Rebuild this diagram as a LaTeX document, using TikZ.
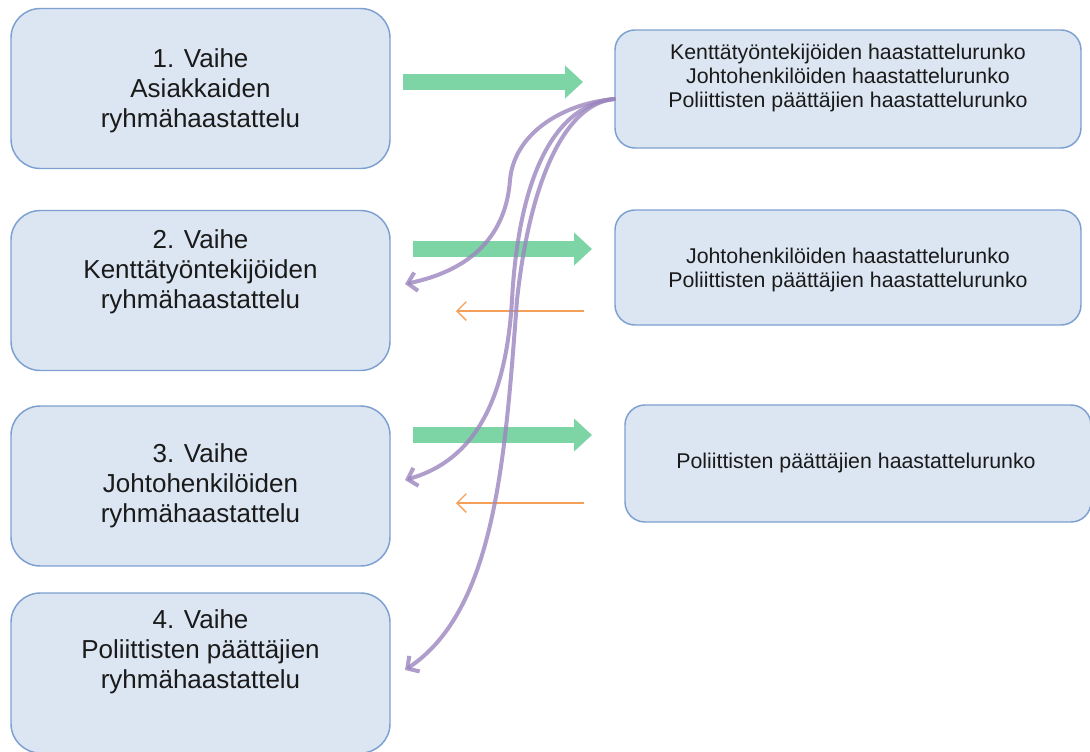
\documentclass[tikz,border=0pt]{standalone}
\usepackage{fontspec}
\setmainfont{Liberation Sans}
\usetikzlibrary{arrows.meta}
\definecolor{boxfill}{HTML}{DCE6F2}
\definecolor{boxline}{HTML}{7EA0D0}
\definecolor{garrowc}{HTML}{7DD4A5}
\definecolor{oarrowc}{HTML}{F5A05A}
\definecolor{parrowc}{HTML}{9B86BE}
\definecolor{txt}{HTML}{1A1A1A}
\tikzset{
  lbox/.style={draw=boxline, line width=1.1pt, fill=boxfill, rounded corners=22pt,
    minimum width=284.25pt, minimum height=120pt, inner sep=0pt},
  rbox/.style={draw=boxline, line width=1.1pt, fill=boxfill, rounded corners=15pt,
    minimum width=349.5pt, inner sep=0pt},
  ltext/.style={text=txt, align=center, font=\fontsize{19.5}{22.5}\selectfont, inner sep=0pt},
  rtext/.style={text=txt, align=center, font=\fontsize{16}{17.8}\selectfont, inner sep=0pt},
  garrow/.style={draw=garrowc, line width=12pt, -{Triangle[length=13.5pt,width=24pt]}},
  oarrow/.style={draw=oarrowc, line width=0.95pt, -{Straight Barb[length=7pt,width=14pt]}},
  parrow/.style={draw=parrowc, line width=3pt, opacity=0.8, line cap=round,
    -{Straight Barb[length=6.5pt,width=14pt]}}
}
\begin{document}
\begin{tikzpicture}[x=0.75pt,y=-0.75pt]
\useasboundingbox (0,0) rectangle (1090,751);
\clip (0,0) rectangle (1090,751);
\fill[white] (0,0) rectangle (1090,751);
% left boxes
\node[lbox] (lb1) at (200.5,88.5) {};
\node[lbox] (lb2) at (200.5,290.5) {};
\node[lbox] (lb3) at (200.5,486) {};
\node[lbox] (lb4) at (200.5,673) {};
\node[ltext] (lt1) at (200.5,91) {1. Vaihe\\Asiakkaiden\\ryhmähaastattelu};
\node[ltext] (lt2) at (200.5,272) {2. Vaihe\\Kenttätyöntekijöiden\\ryhmähaastattelu};
\node[ltext] (lt3) at (200.5,486) {3. Vaihe\\Johtohenkilöiden\\ryhmähaastattelu};
\node[ltext] (lt4) at (200.5,652) {4. Vaihe\\Poliittisten päättäjien\\ryhmähaastattelu};
% right boxes
\node[rbox, minimum height=88.5pt] (rb1) at (848,89) {};
\node[rbox, minimum height=86.25pt] (rb2) at (848,267.5) {};
\node[rbox, minimum height=87.75pt] (rb3) at (858,463.5) {};
\node[rtext] (rt1) at (848,78) {Kenttätyöntekijöiden haastattelurunko\\Johtohenkilöiden haastattelurunko\\Poliittisten päättäjien haastattelurunko};
\node[rtext] (rt2) at (848,270) {Johtohenkilöiden haastattelurunko\\Poliittisten päättäjien haastattelurunko};
\node[rtext] (rt3) at (856,463) {Poliittisten päättäjien haastattelurunko};
% green arrows
\coordinate (g1s) at (403,82);  \coordinate (g1e) at (583,82);
\coordinate (g2s) at (413,249); \coordinate (g2e) at (592,249);
\coordinate (g3s) at (413,435); \coordinate (g3e) at (592,435);
\draw[garrow] (g1s) -- (g1e);
\draw[garrow] (g2s) -- (g2e);
\draw[garrow] (g3s) -- (g3e);
% orange arrows
\coordinate (o1s) at (584,311); \coordinate (o1e) at (456,311);
\coordinate (o2s) at (584,503); \coordinate (o2e) at (456,503);
\draw[oarrow] (o1s) -- (o1e);
\draw[oarrow] (o2s) -- (o2e);
% purple curves
\coordinate (ps) at (614,99);
\coordinate (p1) at (405,284);
\coordinate (p2) at (405,480);
\coordinate (p3) at (405,670);
\draw[parrow] (ps) .. controls (560,104) and (514,135) .. (510,180)
  .. controls (506,235) and (472,270) .. (p1);
\draw[parrow] (ps) .. controls (548,106) and (518,190) .. (512,300)
  .. controls (506,400) and (475,460) .. (p2);
\draw[parrow] (ps) .. controls (565,104) and (530,180) .. (517,300)
  .. controls (505,460) and (495,610) .. (p3);
\end{tikzpicture}
\end{document}
